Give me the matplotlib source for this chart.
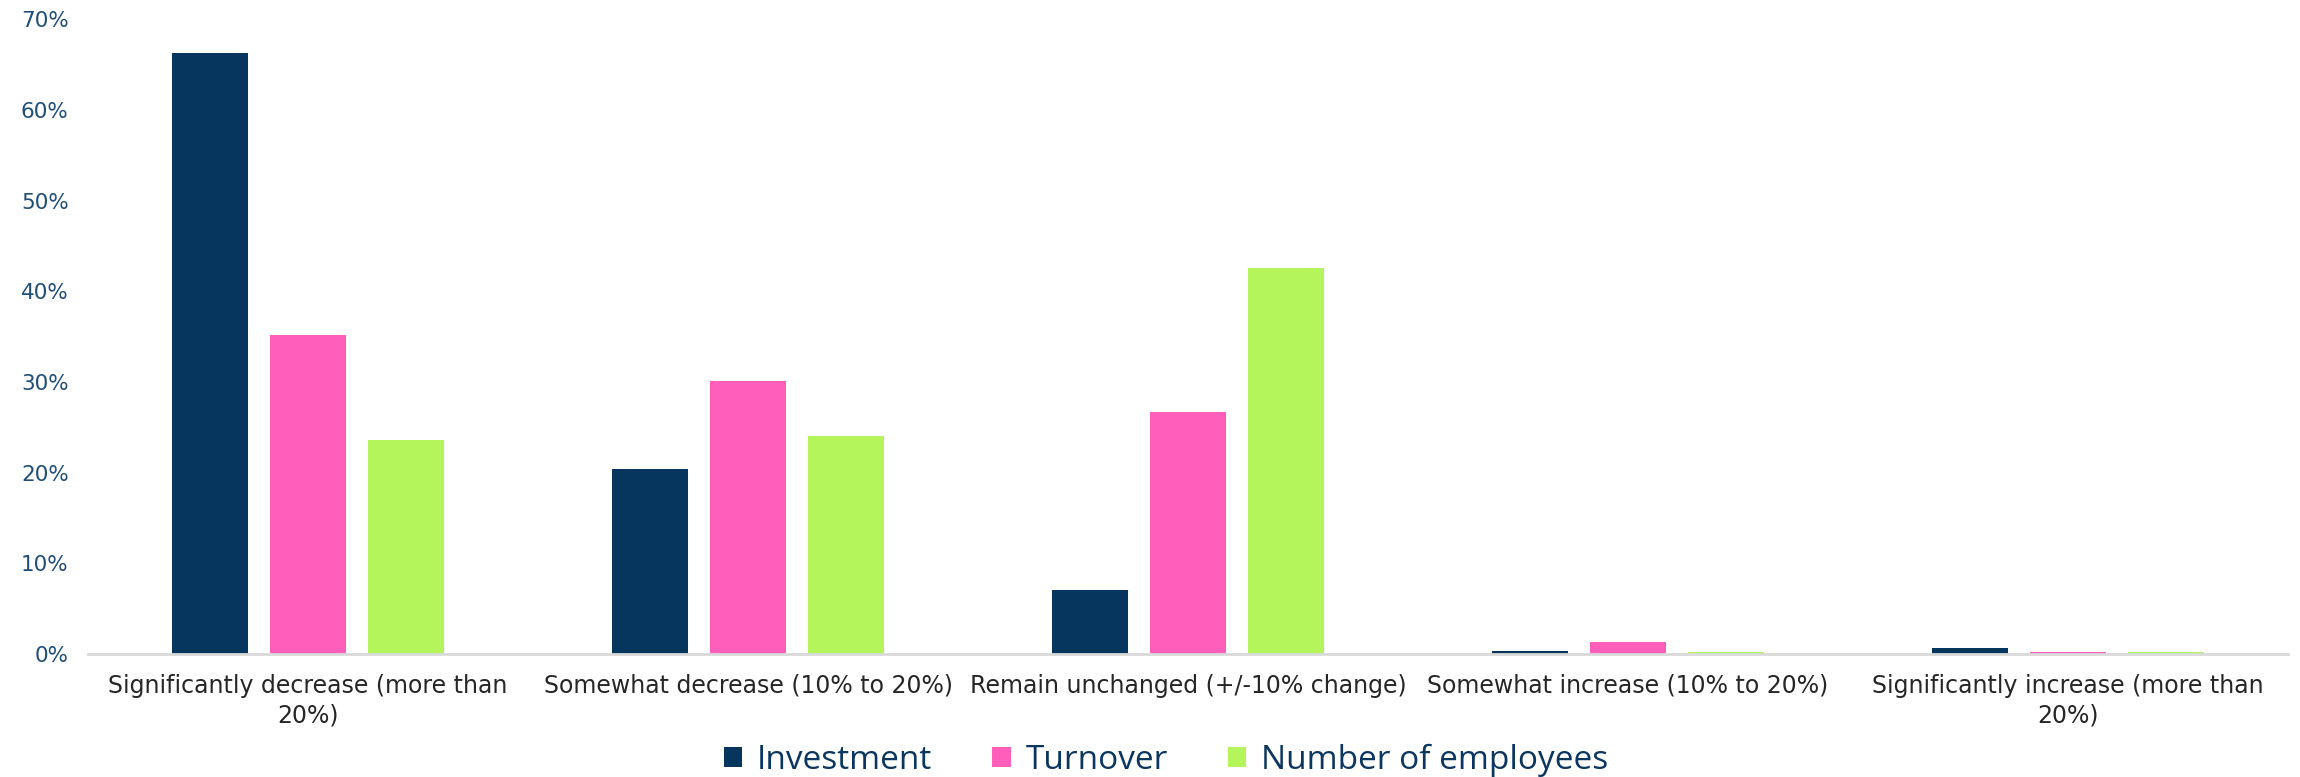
import numpy as np
import matplotlib.pyplot as plt
from matplotlib.ticker import PercentFormatter

# survey answers per category
categories = [
    "Significantly decrease (more than\n20%)",
    "Somewhat decrease (10% to 20%)",
    "Remain unchanged (+/-10% change)",
    "Somewhat increase (10% to 20%)",
    "Significantly increase (more than\n20%)",
]
investment = [66.3, 20.4, 7.1, 0.4, 0.7]
turnover = [35.2, 30.1, 26.7, 1.4, 0.2]
employees = [23.6, 24.1, 42.6, 0.2, 0.2]

series = ["Investment", "Turnover", "Number of employees"]
colors = ["#06365E", "#FF5FBA", "#B3F55A"]

plt.rcParams['font.family'] = ['DejaVu Sans']

fig = plt.figure(figsize=(23, 7.77), dpi=100)
ax = fig.add_axes([0.0383, 0.158, 0.9565, 0.8175])

x = np.arange(len(categories))
w = 0.173
step = 0.222
for i, (vals, name, c) in enumerate(zip([investment, turnover, employees], series, colors)):
    ax.bar(x + (i - 1) * step, vals, width=w, color=c, label=name, zorder=2)

ax.set_xlim(-0.5, len(categories) - 0.5)
ax.set_ylim(0, 70)
ax.set_yticks(np.arange(0, 71, 10))
ax.yaxis.set_major_formatter(PercentFormatter(decimals=0))
ax.set_xticks(x)
ax.set_xticklabels(categories, fontsize=17, color="#262626", linespacing=1.3)

for s in ["top", "right", "left"]:
    ax.spines[s].set_visible(False)
ax.spines["bottom"].set_color("#D9D9D9")
ax.spines["bottom"].set_linewidth(2)
ax.tick_params(axis="x", length=0, pad=14)
ax.tick_params(axis="y", length=0, pad=14, labelsize=15.5, labelcolor="#1F4E79")

leg = ax.legend(loc="lower center", bbox_to_anchor=(0.49, -0.24), ncol=3, frameon=False,
                prop={'family': 'Open Sans', 'size': 24},
                handlelength=0.55, handleheight=0.55, handletextpad=0.45,
                columnspacing=1.8)
for t in leg.get_texts():
    t.set_color("#0B3660")

fig.savefig("out.png", dpi=100)
